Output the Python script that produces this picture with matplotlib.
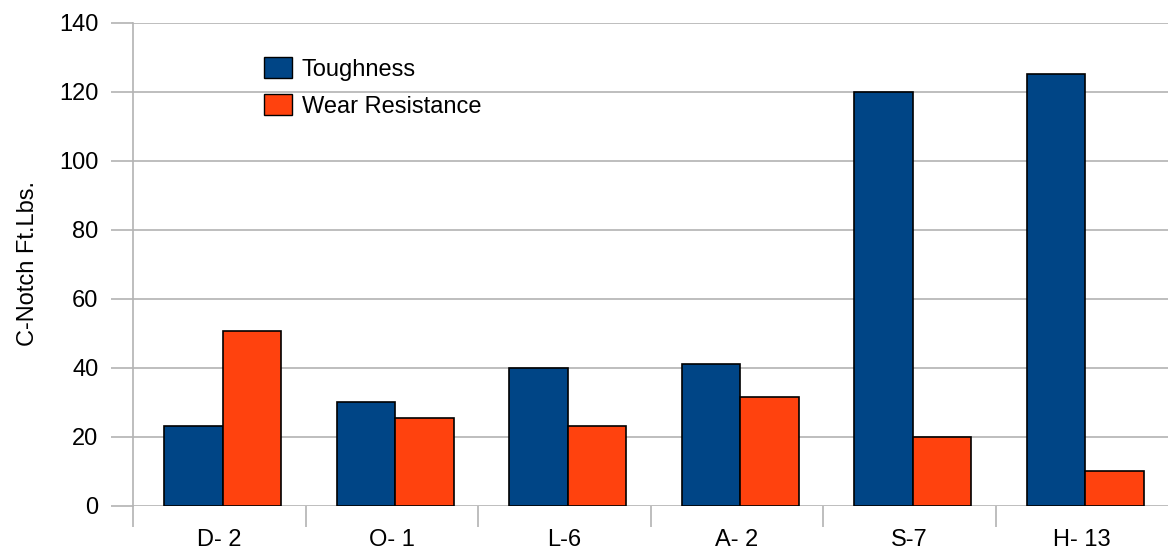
import matplotlib
matplotlib.use("Agg")
import matplotlib.pyplot as plt
import numpy as np
from matplotlib.patches import Patch

categories = ["D- 2", "O- 1", "L-6", "A- 2", "S-7", "H- 13"]
toughness = [23, 30, 40, 41, 120, 125]
wear_resistance = [50.5, 25.5, 23, 31.5, 20, 10]
yticks = [0, 20, 40, 60, 80, 100, 120, 140]

blue = "#004586"
orange = "#ff420e"
grid_c = "#b3b3b3"

plt.rcParams['font.family'] = ['Liberation Sans', 'DejaVu Sans']

fig = plt.figure(figsize=(11.72, 5.54), dpi=100)
ax = fig.add_axes([133/1172, 1-505.5/554, 1035/1172, 483/554])

x = np.arange(len(categories))
w = 0.34
ax.bar(x - w/2 + 0.02, toughness, w, color=blue, edgecolor="black", linewidth=1.2, label="Toughness", zorder=3)
ax.bar(x + w/2 + 0.02, wear_resistance, w, color=orange, edgecolor="black", linewidth=1.2, label="Wear Resistance", zorder=3)

ax.set_xlim(-0.5, len(categories) - 0.5)
ax.set_ylim(0, 140)
ax.set_yticks(yticks)
ax.yaxis.grid(True, color=grid_c, linewidth=1.2, zorder=0)
ax.set_axisbelow(True)

for s in ["top", "right", "bottom"]:
    ax.spines[s].set_visible(False)
ax.spines["left"].set_color(grid_c)
ax.spines["left"].set_linewidth(1.2)

ax.set_xticks(x)
ax.set_xticklabels(categories, fontsize=17)
ax.tick_params(axis="x", length=0, pad=17)
ax.set_xticks(np.arange(-0.5, len(categories) - 0.5, 1.0), minor=True)
ax.tick_params(axis="x", which="minor", length=15, color=grid_c, width=1.2)
ax.tick_params(axis="y", length=16, color=grid_c, width=1.2, labelsize=17, pad=9)

ax.set_ylabel("C-Notch Ft.Lbs.", fontsize=17, labelpad=14)

handles = [Patch(facecolor=blue, edgecolor="black", label="Toughness"),
           Patch(facecolor=orange, edgecolor="black", label="Wear Resistance")]
leg = ax.legend(handles=handles, loc="upper left", bbox_to_anchor=(0.106, 0.972), frameon=False,
                fontsize=17, handlelength=1.2, handleheight=1.0, labelspacing=0.55, handletextpad=0.4)

fig.savefig("out.png", dpi=100)
